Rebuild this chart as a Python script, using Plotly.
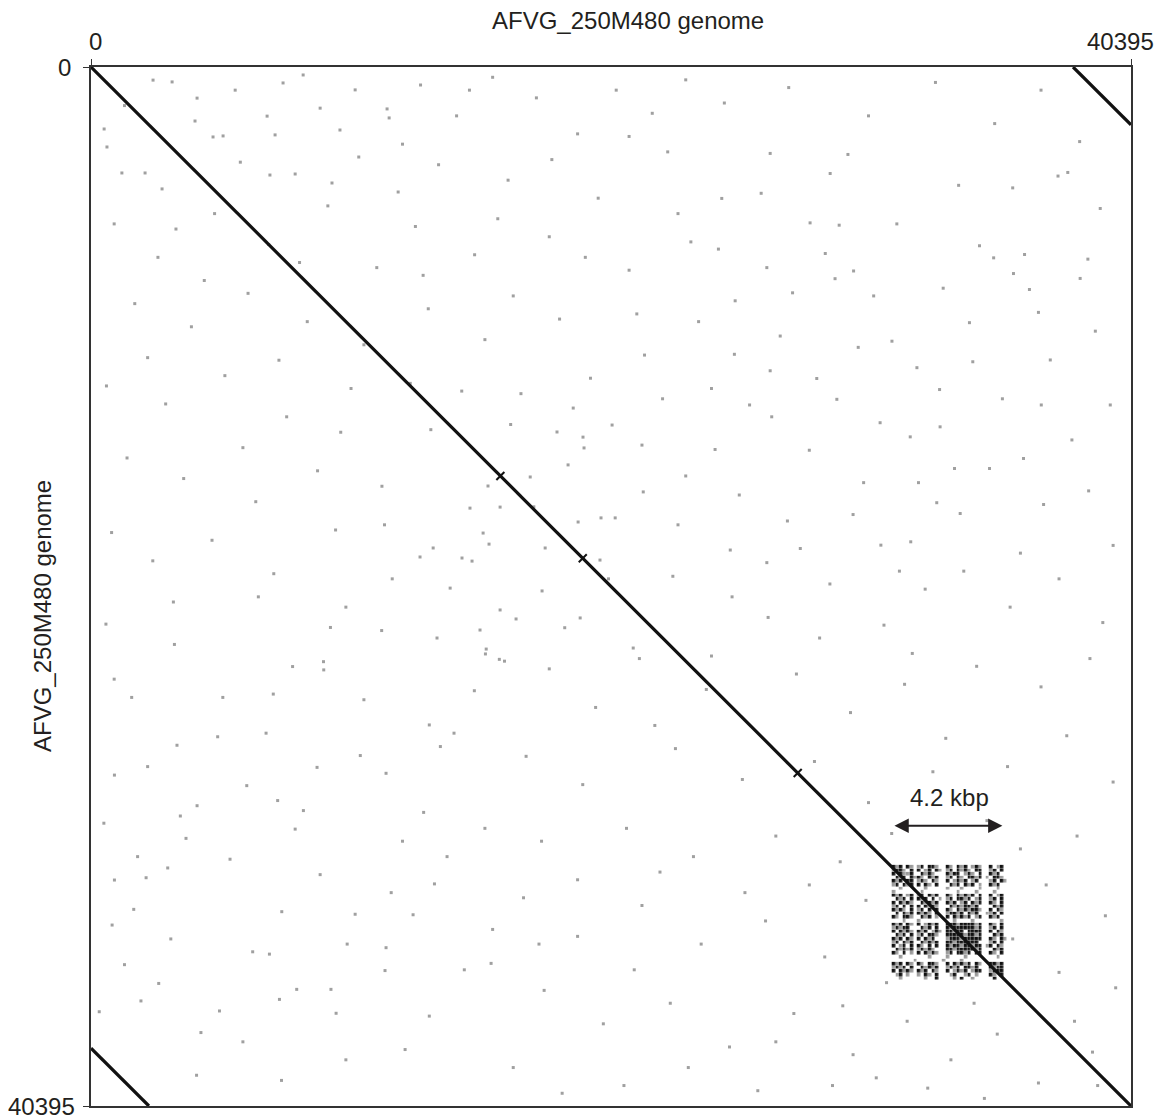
import numpy as np
import plotly.graph_objects as go

# ---------------- data ----------------
genome_len = 40395
axis_title = "AFVG_250M480 genome"
tick_vals = [0, 40395]
tick_text = ["0", "40395"]

# main self-match diagonal
diag_x = [0, 40395]
diag_y = [0, 40395]
# terminal repeat matches (corners)
tr_x = [38145, 40395]
tr_y = [0, 2250]
bl_x = [0, 2250]
bl_y = [38145, 40395]
# small off-diagonal crosses on the main diagonal (bp)
cross_pos = [15900, 19100, 27450]

# background random matches (kbp)
noise_points_kb = [
    (0.58, 21.66), (9.30, 21.79), (11.29, 21.91), (9.03, 23.12), (9.04, 23.44), (14.89, 24.25),
    (15.86, 23.03), (16.06, 23.10), (15.35, 22.63), (1.58, 24.51), (3.34, 26.37), (0.91, 27.53),
    (6.05, 27.94), (4.12, 28.72), (8.25, 28.91), (7.93, 29.63), (12.92, 28.98), (13.57, 26.42),
    (10.46, 26.77), (8.78, 27.23), (2.98, 31.14), (2.14, 31.52), (1.66, 32.75), (9.95, 34.10),
    (10.26, 32.94), (7.32, 36.25), (13.14, 36.90), (4.99, 36.70), (1.94, 36.31), (4.27, 37.54),
    (11.46, 34.24), (13.34, 31.76), (11.66, 32.10), (13.83, 30.70), (7.25, 28.52), (4.92, 26.04),
    (3.24, 22.45), (5.12, 24.51), (7.08, 24.38), (7.83, 23.31), (13.14, 25.58), (15.32, 22.82),
    (11.46, 27.46), (3.69, 29.99), (1.81, 30.70), (3.47, 29.12), (12.51, 32.96), (7.41, 32.84),
    (7.99, 35.86), (9.32, 35.86), (2.63, 35.63), (11.42, 35.13), (15.54, 34.85), (15.60, 33.53),
    (0.82, 33.36), (0.91, 31.61), (0.32, 36.73), (6.28, 34.40), (6.93, 34.49), (9.52, 36.79),
    (26.38, 3.36), (28.71, 4.14), (27.93, 6.06), (29.62, 7.93), (28.90, 8.23), (26.25, 7.80),
    (27.25, 8.78), (24.37, 7.08), (26.77, 10.46), (24.99, 11.17), (26.44, 13.60), (24.24, 14.87),
    (25.18, 16.64), (28.97, 12.92), (28.19, 12.11), (32.96, 12.54), (34.12, 9.94), (32.08, 11.69),
    (34.25, 11.46), (36.26, 7.29), (39.01, 10.27), (37.94, 4.10), (37.56, 4.24), (36.80, 9.54),
    (36.91, 13.14), (37.00, 17.01), (33.54, 15.61), (33.76, 17.36), (31.84, 18.46), (27.05, 17.65),
    (26.25, 19.27), (30.68, 18.59), (36.45, 8.65), (34.51, 6.95), (35.06, 7.42), (29.06, 6.15),
    (28.52, 7.25), (26.03, 4.91), (24.50, 5.11), (25.02, 9.09), (25.58, 13.14), (30.01, 16.16),
    (32.14, 16.16), (32.85, 16.94), (38.72, 7.47), (38.42, 8.22), (35.83, 8.03), (37.26, 11.39),
    (39.59, 13.14), (34.90, 15.61), (36.22, 15.22), (38.75, 16.48), (26.38, 11.81), (31.11, 10.66),
    (31.82, 14.38), (32.98, 13.99), (30.65, 13.83), (27.55, 18.72), (24.83, 18.78),
    (2.41, 0.51), (3.15, 0.58), (4.12, 1.21), (10.26, 0.89), (7.46, 0.62), (8.24, 0.31),
    (6.84, 1.91), (9.67, 2.45), (0.51, 2.41), (4.74, 2.72), (5.13, 2.68), (7.15, 2.64),
    (9.36, 4.51), (6.95, 4.20), (2.76, 4.74), (7.93, 4.16), (11.50, 1.63), (11.58, 1.98),
    (11.93, 4.86), (1.20, 4.12), (0.62, 3.11), (2.10, 4.12), (4.04, 2.10),
    (15.46, 18.55), (14.80, 19.21), (14.41, 19.09), (13.29, 18.70), (12.78, 19.05), (16.51, 21.46),
    (17.52, 20.37), (20.36, 17.53), (19.15, 14.81), (19.11, 14.39), (18.53, 15.47), (18.10, 14.19),
    (20.24, 13.92), (15.11, 21.89), (13.44, 22.20), (15.89, 21.11), (19.00, 21.42), (21.06, 22.59),
    (19.81, 17.53), (18.92, 17.69), (14.72, 17.15), (15.89, 17.11), (15.42, 16.29), (17.06, 15.94),
    (13.95, 20.26), (21.45, 16.52), (18.73, 13.26), (17.64, 18.70), (15.23, 18.12), (19.77, 19.17),
    (12.8, 0.7), (14.2, 1.9), (15.6, 0.4), (17.3, 1.2), (18.9, 2.6), (20.4, 0.9), (21.8, 1.8),
    (23.1, 0.5), (13.5, 3.8), (16.2, 4.4), (19.7, 5.1), (22.4, 3.3), (12.6, 6.2), (14.9, 7.3),
    (17.8, 6.6), (20.9, 7.9), (23.3, 6.8), (13.1, 9.4), (15.3, 10.6), (18.2, 9.8), (21.5, 11.2),
    (23.6, 9.9), (12.4, 12.3), (16.7, 12.7), (19.4, 12.1), (22.2, 12.9),
    (0.9, 6.1), (2.6, 7.4), (4.8, 5.7), (6.9, 6.9), (9.2, 5.4), (11.1, 7.8), (1.7, 9.2),
    (3.9, 10.1), (6.1, 8.8), (8.4, 9.9), (10.6, 10.8), (0.6, 12.4), (2.9, 13.1), (5.2, 12.0),
    (7.6, 13.6), (10.1, 12.5), (1.4, 15.2), (3.6, 16.0), (5.9, 14.8), (8.8, 15.7), (11.3, 16.3),
    (0.8, 18.1), (2.4, 19.2), (4.7, 18.4), (7.1, 19.7), (9.5, 18.0), (11.7, 19.9), (3.2, 20.8),
    (6.5, 20.6), (9.9, 21.0),
    (22.6, 19.8), (24.9, 20.6), (26.3, 21.4), (28.7, 20.1), (30.8, 21.7), (32.4, 20.3),
    (17.8, 23.4), (19.6, 24.9), (21.3, 23.0), (23.9, 24.2), (27.4, 23.6), (29.5, 25.1),
    (31.6, 24.0), (16.9, 26.8), (19.1, 27.9), (22.7, 26.5), (25.3, 27.7), (28.1, 27.0),
    (30.2, 28.6), (32.7, 27.4), (17.5, 30.1), (20.8, 29.6), (23.4, 30.7), (26.6, 29.9),
    (29.1, 30.9),
    (16.8, 32.3), (18.9, 33.8), (21.4, 32.6), (23.7, 34.1), (26.2, 33.2), (28.5, 34.6),
    (30.1, 32.4), (17.6, 35.9), (19.9, 37.2), (22.5, 36.4), (24.8, 38.1), (27.3, 36.8),
    (29.6, 38.4), (16.4, 38.9), (20.7, 39.6), (25.9, 39.8), (30.5, 39.3), (18.3, 39.9),
    (33.9, 19.6), (35.7, 21.0), (37.6, 19.9), (39.3, 21.6), (34.4, 23.3), (36.9, 24.1),
    (38.8, 23.0), (33.2, 26.1), (35.6, 27.2), (37.9, 26.0), (39.7, 27.8), (34.8, 29.3),
    (38.3, 29.9), (37.1, 31.8), (39.4, 33.0), (37.6, 35.2), (39.8, 35.8), (31.7, 37.1),
    (33.4, 38.6), (35.2, 37.6), (36.8, 39.5), (38.9, 38.3), (32.5, 39.7), (34.3, 36.4),
    (1.3, 1.5), (5.6, 0.9), (8.9, 1.6), (12.1, 3.0), (14.7, 0.9), (17.9, 3.6), (20.9, 2.7),
    (24.6, 1.4), (27.1, 0.8), (30.2, 1.9), (32.8, 0.6), (35.1, 2.2), (36.9, 0.9), (29.4, 3.4),
    (33.7, 4.6), (31.3, 6.1), (22.8, 5.7), (19.2, 7.4), (15.8, 5.9), (10.4, 3.5), (5.8, 3.7),
    (3.3, 6.3), (8.1, 7.6), (12.9, 8.1), (16.4, 8.9), (21.2, 9.6), (24.1, 12.5), (29.8, 10.9),
    (35.4, 12.9), (38.1, 14.5), (39.7, 18.6), (36.1, 18.9), (31.9, 22.8), (28.3, 22.2),
    (24.1, 22.9), (21.9, 25.6), (18.4, 21.8), (14.1, 25.9), (10.6, 24.6), (6.8, 25.9),
    (2.2, 27.2), (0.9, 23.8), (5.4, 30.8), (8.9, 31.4), (12.1, 30.1), (15.3, 29.6),
    (18.9, 31.6), (22.1, 31.3), (25.4, 32.1), (27.9, 31.8), (30.9, 35.6), (29.2, 36.5),
    (26.6, 37.9), (23.2, 38.9), (21.1, 35.1), (17.4, 34.1), (14.5, 35.1), (12.2, 38.2),
    (9.9, 38.6), (7.4, 39.4), (4.1, 39.2), (5.9, 37.9), (3.1, 33.9), (1.3, 34.9), (0.5, 29.4),
    (13.2, 14.1), (11.4, 17.8), (9.7, 14.2), (6.4, 16.9), (2.2, 11.3), (4.4, 8.3), (7.3, 11.4),
    (27.9, 14.9), (29.6, 17.4), (31.4, 19.6), (35.8, 4.7), (39.2, 5.5), (38.4, 2.9),
    (33.1, 8.6), (30.4, 8.9), (23.1, 15.9), (21.4, 14.7), (22.8, 17.8), (20.1, 19.9),
    (17.2, 17.1), (16.3, 13.9), (14.4, 12.6), (35.8, 33.9), (36.1, 30.4), (31.1, 29.8),
    (38.2, 37.1), (39.1, 39.6), (34.7, 40.1), (28.8, 39.6),
]

# tandem-repeat match block: one character per cell ('#' strong, '+' weak, '.' none)
cluster_x0 = 31100
cluster_y0 = 31020
cluster_step = 140
cluster_rows = [
    "#+#.#+ . +#.##+ .. #+.#+#.+#+ .. #.+# .",
    "+##+.# . #.+#.# +. +#.#+#+.## .. +#.# .",
    "#.#++# . .#+#+. .. #+##.+#+.# .. #+#. .",
    ".#+#.# + #+.#+# .. +#.#+.##+# .+ .##+ .",
    "#+#.## . +#+.#+ .. #.+#+#.+#. .. +#.# +",
    "+#.#+# . #.#+.# .. .#+#.#+#.+ .. #+#. .",
    "..+... . ..+... .. +...+....+ .. ..+. .",
    "+..... . .+.... .. ...+....+. .. .+.. .",
    "#+#.+# . +#.#+# .. #+.#+#+#.# .. #.+# .",
    ".#+#.# . #+#.#. +. +#.##+#.+# .. +#.# .",
    "#.#+#+ . .#+#+# .. #+#.+#.#+# .. #+.# .",
    "+#.#.# . #.#+#+ .. .#+#+##+#. .. .#+# .",
    "#+#+.# . +#.#.# .. #+.#+#+##+ .. #.#+ .",
    ".#.#+# . #+#+.# .. +##+#.#+#. .+ +#.# .",
    "#+.##+ . .#+#.+ .. #.#+#+#.+# .. #+#. .",
    "...+.. . +..... .. ..+....+.. .. ...+ .",
    "#+#.#+ . #.+#+# .. ###+####+# .. #+.# .",
    "+#+##. . .#+#.# .. #+######+# .. +#.# .",
    "#.#+#+ . #+#.+# +. ##+##.#### .. #.#+ .",
    ".#+#.# . +#.##+ .. #####+##+# .. .#+# .",
    "#+#.#+ . #.#+#. .. +###+##### .. #+.# +",
    "+#.#+# . .#+#+# .. ##+######. .. +#.# .",
    "#.+#.# . #+.#.# .. #+##+##+## .+ #.#+ .",
    ".#+#+# . +#+#+. .. ##+#####+# .. .#+# .",
    "#+.#.+ . #.#+#+ .. +#.##+#.## .. #+.# .",
    "..+... . ...+.. .. +....+.... .. ..+. .",
    "...... + ...... .+ ....+..... .. .... .",
    "#+#.#+ . #+.##+ .. #.#+#+#.#+ .. ##+# .",
    "+#+#.# . .#+#+# .. +#+#.##+#. .. #+## .",
    "#.#+#+ . #+#.#+ .. #.+#+#.+## .. +### .",
    ".+#.+. . +.#+.# .. .+#..+#.+. .. #+.# .",
    "..+... . ..+..# .. ..+.#..+.. .. .#.. .",
]

# ---------------- build ----------------
ncols = 32
rows = [r.replace(" ", "").ljust(ncols, ".")[:ncols] for r in cluster_rows]
val = {"#": 1.0, "+": 0.0, ".": np.nan}
cz = [[val[c] for c in r] for r in rows]
cx = [cluster_x0 + (i + 0.5) * cluster_step for i in range(ncols)]
cy = [cluster_y0 + (j + 0.5) * cluster_step for j in range(len(rows))]

noise_x = [p[0] * 1000 for p in noise_points_kb]
noise_y = [p[1] * 1000 for p in noise_points_kb]

FONT = "Liberation Sans, Arial, Helvetica, sans-serif"
TXT = "#231f20"

fig = go.Figure()

fig.add_trace(go.Scatter(
    x=noise_x, y=noise_y, mode="markers",
    marker=dict(symbol="square", size=3, color="#a0a0a0", line=dict(width=0)),
    hoverinfo="skip", showlegend=False))

fig.add_trace(go.Heatmap(
    x=cx, y=cy, z=cz, zmin=0, zmax=1, xgap=0.4, ygap=0.4,
    colorscale=[[0, "#9a9a9a"], [1, "#111111"]], showscale=False,
    hoverinfo="skip"))

for xs, ys in [(diag_x, diag_y), (tr_x, tr_y), (bl_x, bl_y)]:
    fig.add_trace(go.Scatter(
        x=xs, y=ys, mode="lines", line=dict(color="#111111", width=3.2),
        hoverinfo="skip", showlegend=False))

fig.add_trace(go.Scatter(
    x=cross_pos, y=cross_pos, mode="markers",
    marker=dict(symbol="line-ne", size=8, line=dict(color="#111111", width=2)),
    hoverinfo="skip", showlegend=False))

# page has an 8px body margin: work in page pixels and compensate
OFF = 8
PW, PH = 1163, 1119
W, H = PW - OFF, PH - OFF
L, R, T, B = 91, 1131, 67, 1106  # plot area in page pixels


def px(x):
    return (x - L) / (R - L)


def py(y):
    return 1 - (y - T) / (B - T)


fig.update_layout(
    width=W, height=H,
    margin=dict(l=L - OFF, r=PW - R, t=T - OFF, b=PH - B),
    paper_bgcolor="white", plot_bgcolor="white",
    font=dict(family=FONT, size=24, color=TXT),
    showlegend=False,
    xaxis=dict(range=[0, genome_len], side="top", showgrid=False, zeroline=False,
               showline=True, mirror=True, linecolor="#333333", linewidth=1.5,
               tickvals=tick_vals, ticks="outside", ticklen=6, tickcolor="#333333",
               showticklabels=False),
    yaxis=dict(range=[genome_len, 0], showgrid=False, zeroline=False,
               showline=True, mirror=True, linecolor="#333333", linewidth=1.5,
               tickvals=tick_vals, ticks="outside", ticklen=6, tickcolor="#333333",
               showticklabels=False),
)

ann = [
    dict(text=axis_title, x=px(628), y=py(21), xanchor="center", yanchor="middle"),
    dict(text=axis_title, x=px(42), y=py(616), xanchor="center", yanchor="middle", textangle=-90),
    dict(text=tick_text[0], x=px(95), y=py(42), xanchor="center", yanchor="middle"),
    dict(text=tick_text[1], x=px(1120), y=py(42), xanchor="center", yanchor="middle"),
    dict(text=tick_text[0], x=px(73), y=py(67), xanchor="right", yanchor="middle"),
    dict(text=tick_text[1], x=px(77), y=py(1106), xanchor="right", yanchor="middle"),
    dict(text="4.2 kbp", x=px(949), y=py(797), xanchor="center", yanchor="middle"),
]
for a in ann:
    fig.add_annotation(xref="paper", yref="paper", showarrow=False,
                       font=dict(family=FONT, size=24, color=TXT), **a)

# double-headed span arrow
fig.add_annotation(xref="x", yref="y", axref="x", ayref="y",
                   x=35400, y=29500, ax=31150, ay=29500, text="",
                   showarrow=True, arrowhead=2, arrowside="end+start",
                   arrowsize=1.3, arrowwidth=2.2, arrowcolor="#231f20")

fig.write_html("out.html")
